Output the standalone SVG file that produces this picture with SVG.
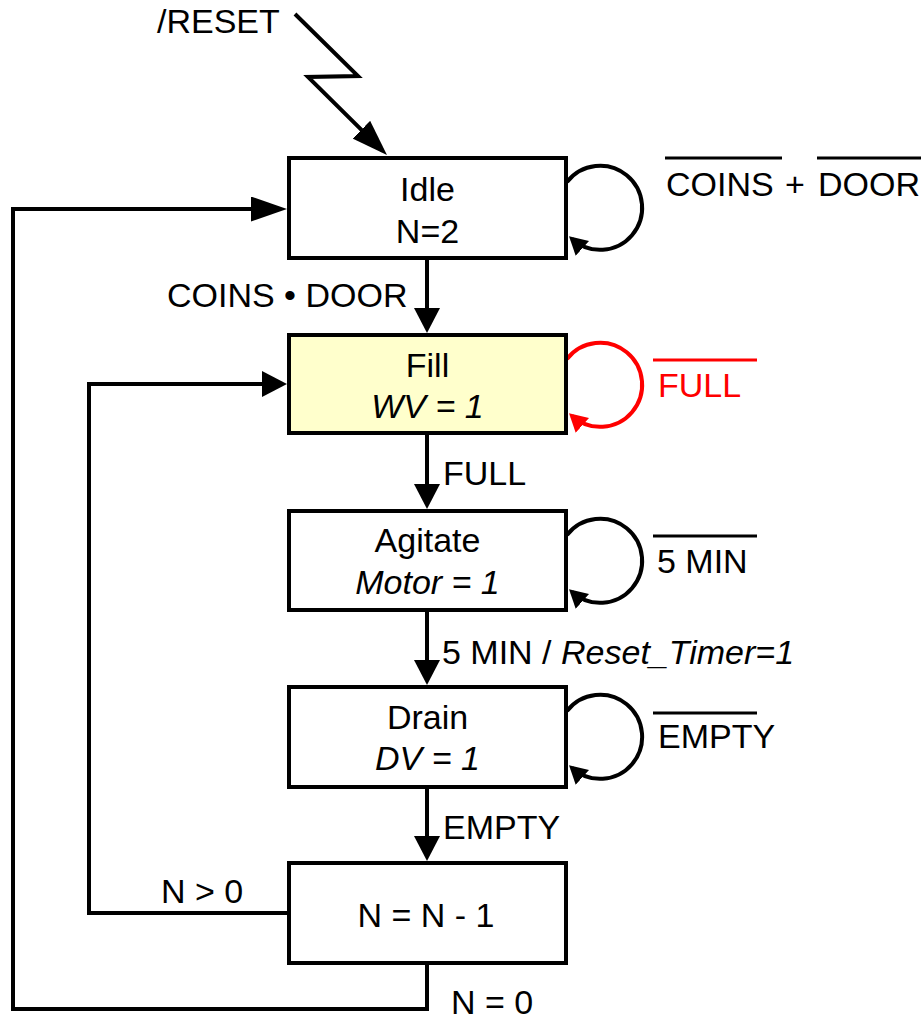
<svg xmlns="http://www.w3.org/2000/svg" width="921" height="1020" viewBox="0 0 921 1020">
<style>
  .box { fill: #ffffff; stroke: #000; stroke-width: 4; }
  .fill { fill: #ffffcc; }
  .t { font-family: "Liberation Sans", Arial, sans-serif; font-size: 34px; fill: #000; }
  .c { text-anchor: middle; }
  .i { font-style: italic; }
  .red { fill: #ff0000; }
  .ln { fill: none; stroke: #000; stroke-width: 4; }
  .rl { fill: none; stroke: #ff0000; stroke-width: 4; }
  .ov { stroke: #000; stroke-width: 3; }
  .ovr { stroke: #ff0000; stroke-width: 3; }
</style>
<defs>
  <marker id="big" markerUnits="userSpaceOnUse" markerWidth="36" markerHeight="25" refX="30" refY="12.5" orient="auto">
    <path d="M0,0 L36,12.5 L0,25 z" fill="#000"/>
  </marker>
  <marker id="med" markerUnits="userSpaceOnUse" markerWidth="25" markerHeight="26" refX="21" refY="13" orient="auto">
    <path d="M0,0 L25,13 L0,26 z" fill="#000"/>
  </marker>
  <marker id="sm" markerUnits="userSpaceOnUse" markerWidth="18" markerHeight="20" refX="14" refY="10" orient="auto">
    <path d="M0,0 L18,10 L0,20 z" fill="#000"/>
  </marker>
  <marker id="smr" markerUnits="userSpaceOnUse" markerWidth="18" markerHeight="20" refX="14" refY="10" orient="auto">
    <path d="M0,0 L18,10 L0,20 z" fill="#ff0000"/>
  </marker>
</defs>

<g id="connectors">
  <path class="ln" d="M295,14 L358,76 L308,77 L382.7,150.8" marker-end="url(#big)"/>
  <path class="ln" d="M427,258 V329" marker-end="url(#med)"/>
  <path class="ln" d="M427,433 V505" marker-end="url(#med)"/>
  <path class="ln" d="M427,610 V681" marker-end="url(#med)"/>
  <path class="ln" d="M427,787 V857" marker-end="url(#med)"/>
  <path class="ln" d="M289,913 H89 V384 H283" marker-end="url(#med)"/>
  <path class="ln" d="M427,963 V1009 H13 V209 H281" marker-end="url(#big)"/>
  <path class="ln" d="M567,182 A42,42 0 1 1 572,239" marker-end="url(#sm)"/>
  <path class="rl" d="M567,359 A42,42 0 1 1 572,416" marker-end="url(#smr)"/>
  <path class="ln" d="M567,535 A42,42 0 1 1 572,592" marker-end="url(#sm)"/>
  <path class="ln" d="M567,711 A42,42 0 1 1 572,768" marker-end="url(#sm)"/>
</g>

<g id="labels">
  <text class="t" x="157" y="33">/RESET</text>
  <line class="ov" x1="665" y1="158" x2="782" y2="158"/>
  <line class="ov" x1="817" y1="158" x2="921" y2="158"/>
  <text class="t" x="666" y="196">COINS</text>
  <text class="t" x="785" y="196">+</text>
  <text class="t" x="818" y="196">DOOR</text>
  <text class="t" x="167" y="307">COINS • DOOR</text>
  <line class="ovr" x1="653" y1="360" x2="757" y2="360"/>
  <text class="t red" x="658" y="397">FULL</text>
  <text class="t" x="443" y="485">FULL</text>
  <line class="ov" x1="653" y1="536" x2="757" y2="536"/>
  <text class="t" x="657" y="573">5 MIN</text>
  <text class="t" x="442" y="664">5 MIN / <tspan class="i">Reset_Timer=1</tspan></text>
  <line class="ov" x1="653" y1="713" x2="757" y2="713"/>
  <text class="t" x="658" y="748">EMPTY</text>
  <text class="t" x="443" y="839">EMPTY</text>
  <text class="t" x="161" y="903">N &gt; 0</text>
  <text class="t" x="451" y="1014">N = 0</text>
</g>

<g id="idle">
  <rect class="box" x="289" y="158" width="277" height="100"/>
  <text class="t c" x="427.5" y="201">Idle</text>
  <text class="t c" x="427.5" y="243">N=2</text>
</g>
<g id="fill">
  <rect class="box fill" x="289" y="335" width="277" height="98"/>
  <text class="t c" x="427.5" y="377">Fill</text>
  <text class="t c i" x="427.5" y="418">WV = 1</text>
</g>
<g id="agitate">
  <rect class="box" x="289" y="511" width="277" height="99"/>
  <text class="t c" x="427.5" y="552">Agitate</text>
  <text class="t c i" x="427.5" y="594">Motor = 1</text>
</g>
<g id="drain">
  <rect class="box" x="289" y="687" width="277" height="100"/>
  <text class="t c" x="427.5" y="729">Drain</text>
  <text class="t c i" x="427.5" y="770">DV = 1</text>
</g>
<g id="decrement">
  <rect class="box" x="289" y="863" width="277" height="100"/>
  <text class="t c" x="426" y="927">N = N - 1</text>
</g>
</svg>
